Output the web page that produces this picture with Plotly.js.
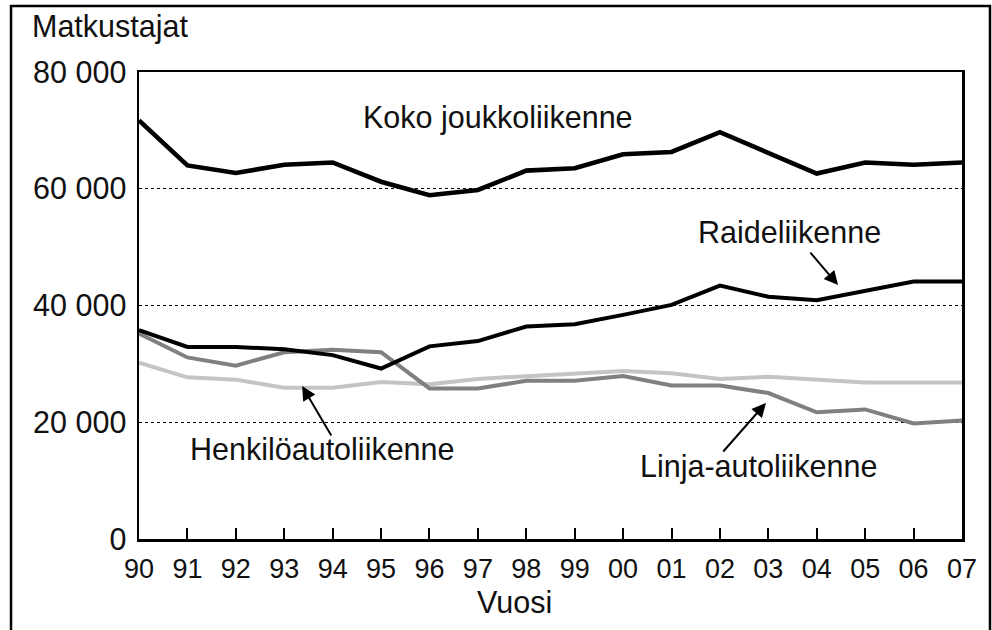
<!DOCTYPE html>
<html>
<head>
<meta charset="utf-8">
<script src="https://cdn.plot.ly/plotly-3.0.1.min.js"></script>
<style>html,body{margin:0;padding:0;background:#fff;}#chart{width:992px;height:630px;}</style>
</head>
<body>
<div id="chart"></div>
<script>
var years = ['90','91','92','93','94','95','96','97','98','99','00','01','02','03','04','05','06','07'];
var koko = [71700,64000,62700,64100,64500,61200,58900,59800,63100,63500,65900,66300,69700,66200,62600,64500,64100,64500];
var raide = [35800,32900,32900,32500,31500,29200,33000,33900,36400,36800,38400,40100,43400,41500,40900,42500,44100,44100];
var linja = [35200,31100,29700,32000,32400,32000,25800,25800,27100,27100,27900,26300,26300,25000,21700,22200,19800,20300];
var henkilo = [30200,27700,27300,25900,25900,26900,26500,27400,27900,28400,28800,28400,27400,27800,27300,26800,26800,26800];

var F = 'Arial, "Liberation Sans", sans-serif';
function tr(y, color, w) {
  return {x: years, y: y, type: 'scatter', mode: 'lines',
    line: {color: color, width: w, shape: 'linear'}, hoverinfo: 'skip', cliponaxis: false};
}
var data = [
  tr(henkilo, '#c4c4c4', 4),
  tr(linja, '#808080', 4),
  tr(raide, '#000000', 4),
  tr(koko, '#000000', 4.6)
];

var LF = {family: F, size: 30.5, color: '#111'};
var layout = {
  width: 992, height: 630,
  margin: {l: 139, r: 30, t: 72, b: 91},
  paper_bgcolor: '#fff', plot_bgcolor: '#fff',
  showlegend: false,
  separators: ', ',
  font: {family: F, color: '#111', size: 28},
  xaxis: {
    type: 'category', range: [0, 17], fixedrange: true,
    showline: true, linecolor: '#000', linewidth: 2.5, mirror: true,
    ticks: 'inside', ticklen: 11, tickwidth: 2, tickcolor: '#000',
    tickfont: {family: F, size: 27, color: '#111'},
    ticklabelstandoff: 4,
    showgrid: false, zeroline: false
  },
  yaxis: {
    range: [0, 80000], tickvals: [0, 20000, 40000, 60000, 80000],
    tickformat: ',d', fixedrange: true,
    showline: true, linecolor: '#000', linewidth: 2.5, mirror: true,
    ticks: '', tickfont: {family: F, size: 30.5, color: '#111'},
    ticklabelstandoff: 4,
    showgrid: true, gridcolor: '#000', gridwidth: 1, griddash: 'dot',
    zeroline: false
  },
  shapes: [
    {type: 'rect', xref: 'paper', yref: 'paper', x0: -0.1555, x1: 1.034, y0: -0.25, y1: 1.1413,
     line: {color: '#000', width: 2.5}, fillcolor: 'rgba(0,0,0,0)', layer: 'above'}
  ],
  annotations: [
    {xref: 'paper', yref: 'paper', x: -0.1325, y: 1.0985, xanchor: 'left', yanchor: 'middle',
     text: 'Matkustajat', showarrow: false, font: LF},
    {xref: 'paper', yref: 'paper', x: (514 - 139) / 823, y: (539 - 602) / 467, xanchor: 'center', yanchor: 'middle',
     text: 'Vuosi', showarrow: false, font: LF},
    {xref: 'paper', yref: 'paper', x: (498 - 139) / 823, y: (539 - 118) / 467, xanchor: 'center', yanchor: 'middle',
     text: 'Koko joukkoliikenne', showarrow: false, font: LF},
    {xref: 'paper', yref: 'paper', x: (789 - 139) / 823, y: (539 - 232) / 467, xanchor: 'center', yanchor: 'middle',
     text: 'Raideliikenne', showarrow: false, font: LF},
    {xref: 'paper', yref: 'paper', x: (322 - 139) / 823, y: (539 - 449) / 467, xanchor: 'center', yanchor: 'middle',
     text: 'Henkilöautoliikenne', showarrow: false, font: LF},
    {xref: 'paper', yref: 'paper', x: (758 - 139) / 823, y: (539 - 466) / 467, xanchor: 'center', yanchor: 'middle',
     text: 'Linja-autoliikenne', showarrow: false, font: LF},
    {x: 14.44, y: 43500, xref: 'x', yref: 'y', text: '', showarrow: true, arrowhead: 2, arrowsize: 1.4,
     arrowwidth: 2, arrowcolor: '#000', ax: -29, ay: -34, standoff: 0},
    {x: 3.37, y: 26200, xref: 'x', yref: 'y', text: '', showarrow: true, arrowhead: 2, arrowsize: 1.4,
     arrowwidth: 2, arrowcolor: '#000', ax: 30, ay: 51, standoff: 0},
    {x: 12.95, y: 23300, xref: 'x', yref: 'y', text: '', showarrow: true, arrowhead: 2, arrowsize: 1.4,
     arrowwidth: 2, arrowcolor: '#000', ax: -44, ay: 50, standoff: 0}
  ]
};
Plotly.newPlot('chart', data, layout, {displayModeBar: false, staticPlot: true});
</script>
</body>
</html>
